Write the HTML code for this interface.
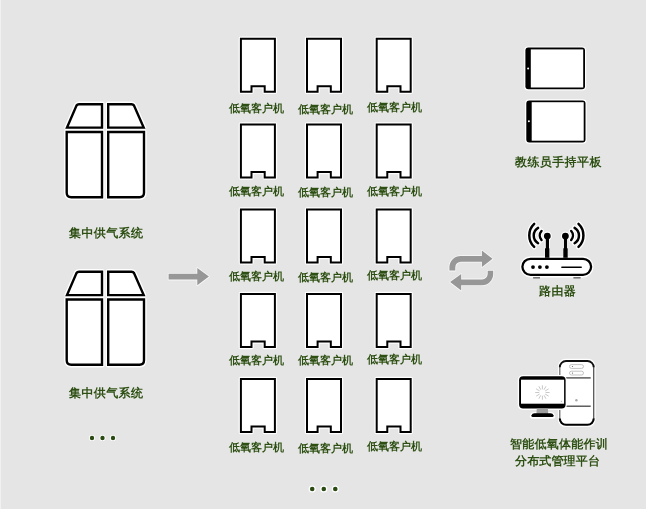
<!DOCTYPE html>
<html><head><meta charset="utf-8">
<style>
html,body{margin:0;padding:0;}
body{width:646px;height:509px;background:#e5e5e5;position:relative;overflow:hidden;font-family:"Liberation Sans",sans-serif;}
.t{position:absolute;white-space:nowrap;color:#2e4f14;font-weight:bold;will-change:transform;text-shadow:0 0 1px rgba(255,255,255,.9);}
.s{font-size:11px;line-height:11px;}
.m{font-size:12px;line-height:12px;letter-spacing:.4px;text-rendering:geometricPrecision;}
svg{position:absolute;left:0;top:0;}
</style></head><body>
<div style="position:absolute;left:0;top:0;width:1px;height:509px;background:#f1f1f1"></div>
<svg width="646" height="509" viewBox="0 0 646 509">
<defs>
  <g id="cab">
    <path d="M1,1 H35 V54 H24.8 V48.5 H11.6 V54 H1 Z" fill="#fff" stroke="#fff" stroke-width="4.5" stroke-linejoin="round"/>
    <path d="M1,1 H35 V54 H24.8 V48.5 H11.6 V54 H1 Z" fill="#fff" stroke="#000" stroke-width="2"/>
  </g>
  <g id="big">
    <g fill="#fff" stroke="#fff" stroke-width="5.2" stroke-linejoin="round">
      <path d="M13.5,1.2 H36.5 V24.6 H1.5 L11,2.5 Q11.8,1.2 13.5,1.2 Z"/>
      <path d="M1.2,29 H36.5 V94.3 H5.7 Q1.2,94.3 1.2,89.8 Z"/>
      <path d="M66,1.2 H42.7 V24.6 H78.2 L68.5,2.5 Q67.7,1.2 66,1.2 Z"/>
      <path d="M78.5,29 H42.7 V94.3 H74 Q78.5,94.3 78.5,89.8 Z"/>
    </g>
    <g fill="#fff" stroke="#000" stroke-width="2.4" stroke-linejoin="miter">
      <path d="M13.5,1.2 H36.5 V24.6 H1.5 L11,2.5 Q11.8,1.2 13.5,1.2 Z"/>
      <path d="M1.2,29 H36.5 V94.3 H5.7 Q1.2,94.3 1.2,89.8 Z"/>
      <path d="M66,1.2 H42.7 V24.6 H78.2 L68.5,2.5 Q67.7,1.2 66,1.2 Z"/>
      <path d="M78.5,29 H42.7 V94.3 H74 Q78.5,94.3 78.5,89.8 Z"/>
    </g>
  </g>
</defs>

<!-- big cabinets -->
<use href="#big" x="65.5" y="103"/>
<use href="#big" x="65.5" y="270.5"/>

<!-- dots left -->
<g fill="#fff">
  <circle cx="92" cy="438" r="3.1"/><circle cx="102.5" cy="438" r="3.1"/><circle cx="113" cy="438" r="3.1"/>
  <circle cx="312.2" cy="489" r="3.6"/><circle cx="323.8" cy="489" r="3.6"/><circle cx="335.3" cy="489" r="3.6"/>
</g>
<g fill="#2a4a12">
  <circle cx="92" cy="438" r="2.2"/><circle cx="102.5" cy="438" r="2.2"/><circle cx="113" cy="438" r="2.2"/>
  <circle cx="312.2" cy="489" r="2.3"/><circle cx="323.8" cy="489" r="2.3"/><circle cx="335.3" cy="489" r="2.3"/>
</g>

<!-- arrow -->
<path d="M168.6,273.7 H197.3 V268 L208.9,276.6 L197.3,285.3 V279.6 H168.6 Z" fill="#979797" stroke="rgba(255,255,255,.75)" stroke-width="1.6" stroke-linejoin="round" paint-order="stroke"/>

<!-- cabinet grid -->
<use href="#cab" x="239.9" y="37.7"/><use href="#cab" x="306" y="37.7"/><use href="#cab" x="375.7" y="37.7"/>
<use href="#cab" x="239.9" y="123.6"/><use href="#cab" x="306" y="123.6"/><use href="#cab" x="375.7" y="123.6"/>
<use href="#cab" x="239.9" y="208.6"/><use href="#cab" x="306" y="208.6"/><use href="#cab" x="375.7" y="208.6"/>
<use href="#cab" x="239.9" y="293"/><use href="#cab" x="306" y="293"/><use href="#cab" x="375.7" y="293"/>
<use href="#cab" x="239.9" y="377.9"/><use href="#cab" x="306" y="377.9"/><use href="#cab" x="375.7" y="377.9"/>

<!-- swap icon -->
<g fill="#979797" stroke="rgba(255,255,255,.75)" stroke-width="1.6" stroke-linejoin="round" paint-order="stroke">
  <path d="M449.4,270.6 V267.3 A11.3,11.3 0 0 1 460.7,256 H481.9 V250.6 L492.6,258.8 L481.9,266.9 V261.7 H461 A5.7,5.7 0 0 0 455.3,267.4 V270.6 Z"/>
  <path d="M493.2,270.7 V274 A11.2,11.2 0 0 1 482,285.2 H461.2 V290.6 L450.1,282.1 L461.2,274.1 V279.4 H482.1 A5.6,5.6 0 0 0 487.7,273.8 V270.7 Z"/>
</g>

<!-- tablets -->
<g>
  <rect x="524.2" y="46.4" width="62" height="44.1" rx="4" fill="#fff"/>
  <rect x="525.4" y="47.6" width="59.6" height="41.7" rx="3" fill="#000"/>
  <rect x="530.8" y="49.4" width="52.4" height="38.1" fill="#fff"/>
  <circle cx="528.1" cy="68.4" r="1" fill="#fff"/>

  <rect x="525.1" y="99.2" width="61.6" height="44.5" rx="4" fill="#fff"/>
  <rect x="526.3" y="100.4" width="59.2" height="42.1" rx="3" fill="#000"/>
  <rect x="531.7" y="102.2" width="52" height="38.5" fill="#fff"/>
  <circle cx="528.9" cy="121.2" r="1" fill="#fff"/>
</g>

<!-- router -->
<g>
  <rect x="522.4" y="258.8" width="68.7" height="16.1" rx="8.05" fill="#fff" stroke="#fff" stroke-width="5"/>
  <g fill="none" stroke="#fff" stroke-width="5" stroke-linecap="round">
    <path d="M534.2,223.9 A15.9,15.9 0 0 0 534.2,246.9"/>
    <path d="M538.1,227.9 A8.9,8.9 0 0 0 538.1,243.2"/>
    <path d="M541.5,231 A6.8,6.8 0 0 0 541.5,240"/>
    <path d="M578.5,223.9 A15.9,15.9 0 0 1 578.5,246.9"/>
    <path d="M574.6,227.9 A8.9,8.9 0 0 1 574.6,243.2"/>
    <path d="M571.2,231 A6.8,6.8 0 0 1 571.2,240"/>
    <path d="M547.2,236 V257 M565.5,236 V257"/>
  </g>
  <circle cx="547.3" cy="236.1" r="4.6" fill="#fff"/>
  <circle cx="565.4" cy="236.1" r="4.6" fill="#fff"/>
  <rect x="533.1" y="277.1" width="6.9" height="1.4" fill="#666"/>
  <rect x="573.4" y="277.1" width="7.2" height="1.4" fill="#666"/>
  <rect x="522.4" y="258.8" width="68.7" height="16.1" rx="8.05" fill="#fff" stroke="#000" stroke-width="2.3"/>
  <circle cx="533" cy="267.1" r="1.9" fill="#000"/>
  <circle cx="539.9" cy="267.1" r="1.9" fill="#000"/>
  <circle cx="546.9" cy="267.1" r="1.9" fill="#000"/>
  <line x1="561.9" y1="267.3" x2="581.2" y2="267.3" stroke="#000" stroke-width="1.5" stroke-linecap="round"/>
  <rect x="545.8" y="236" width="3.2" height="13" fill="#000"/>
  <rect x="545" y="248.3" width="4.4" height="9.5" fill="#000"/>
  <rect x="563.9" y="236" width="3.2" height="13" fill="#000"/>
  <rect x="563.3" y="248.3" width="4.4" height="9.5" fill="#000"/>
  <circle cx="547.3" cy="236.1" r="3.4" fill="#000"/>
  <circle cx="565.4" cy="236.1" r="3.4" fill="#000"/>
  <g fill="none" stroke="#000" stroke-width="2.5" stroke-linecap="round">
    <path d="M534.2,223.9 A15.9,15.9 0 0 0 534.2,246.9"/>
    <path d="M538.1,227.9 A8.9,8.9 0 0 0 538.1,243.2"/>
    <path d="M541.5,231 A6.8,6.8 0 0 0 541.5,240"/>
    <path d="M578.5,223.9 A15.9,15.9 0 0 1 578.5,246.9"/>
    <path d="M574.6,227.9 A8.9,8.9 0 0 1 574.6,243.2"/>
    <path d="M571.2,231 A6.8,6.8 0 0 1 571.2,240"/>
  </g>
</g>

<!-- computer -->
<g>
  <rect x="557.9" y="358.8" width="37.7" height="68.3" rx="7.5" fill="#fff"/>
  <path d="M559.8,366.5 V419" stroke="#666" stroke-width="1.2" fill="none"/>
  <path d="M593.7,366.5 V419" stroke="#555" stroke-width="1.3" fill="none"/>
  <path d="M559.8,367.2 A6.2,6.2 0 0 1 566,361 H587.5 A6.2,6.2 0 0 1 593.7,367.2" stroke="#111" stroke-width="1.9" fill="none"/>
  <path d="M559.8,418.6 A6.2,6.2 0 0 0 566,424.8 H587.5 A6.2,6.2 0 0 0 593.7,418.6" stroke="#000" stroke-width="2.1" fill="none"/>
  <line x1="565" y1="377.9" x2="590.7" y2="377.9" stroke="#444" stroke-width="1.3"/>
  <line x1="565" y1="406.2" x2="590.7" y2="406.2" stroke="#444" stroke-width="1.3"/>
  <rect x="569.5" y="364.6" width="14" height="3.8" rx="1.9" fill="#fff" stroke="#aaa" stroke-width="0.7"/>
  <rect x="569.5" y="371.2" width="14" height="3.8" rx="1.9" fill="#fff" stroke="#aaa" stroke-width="0.7"/>
  <circle cx="572.5" cy="366.5" r="0.6" fill="#666"/>
  <circle cx="572.5" cy="373.1" r="0.6" fill="#666"/>
  <circle cx="576.4" cy="400.3" r="1.2" fill="#aaa"/>

  <rect x="517.8" y="375" width="49" height="35" rx="5" fill="#fff"/>
  <path d="M532.5,417.5 H552.5 Q554.5,417.5 553.8,415.6 Q553,413.2 550.5,413.2 H534.5 Q532,413.2 531.2,415.6 Q530.6,417.5 532.5,417.5 Z" fill="#fff" stroke="#fff" stroke-width="2.6"/>
  <rect x="519.1" y="376.3" width="46.5" height="32.2" rx="4" fill="#000"/>
  <rect x="521" y="379.7" width="43.1" height="24" fill="#fff"/>
  <path d="M536.8,408.6 H547.9 L548.3,414 H536.4 Z" fill="#a0a0a0"/>
  <path d="M532.5,417 H552.5 Q554,417 553.5,415.3 Q552.8,413.3 550.6,413.3 H534.4 Q532.2,413.3 531.5,415.3 Q531,417 532.5,417 Z" fill="#000"/>
  <g stroke="#c8c8c8" stroke-width="1" stroke-linecap="round"><line x1="546.00" y1="392.50" x2="549.20" y2="392.50"/><line x1="545.52" y1="394.30" x2="548.29" y2="395.90"/><line x1="544.20" y1="395.62" x2="545.80" y2="398.39"/><line x1="542.40" y1="396.10" x2="542.40" y2="399.30"/><line x1="540.60" y1="395.62" x2="539.00" y2="398.39"/><line x1="539.28" y1="394.30" x2="536.51" y2="395.90"/><line x1="538.80" y1="392.50" x2="535.60" y2="392.50"/><line x1="539.28" y1="390.70" x2="536.51" y2="389.10"/><line x1="540.60" y1="389.38" x2="539.00" y2="386.61"/><line x1="542.40" y1="388.90" x2="542.40" y2="385.70"/><line x1="544.20" y1="389.38" x2="545.80" y2="386.61"/><line x1="545.52" y1="390.70" x2="548.29" y2="389.10"/></g>
  <circle cx="561.3" cy="401.2" r="0.5" fill="#999"/>
</g>
</svg>

<div class="t m" style="left:69px;top:227px">集中供气系统</div>
<div class="t m" style="left:69px;top:387px">集中供气系统</div>

<div class="t s" style="left:229px;top:103px">低氧客户机</div>
<div class="t s" style="left:298px;top:104px">低氧客户机</div>
<div class="t s" style="left:366.9px;top:102px">低氧客户机</div>
<div class="t s" style="left:229px;top:186px">低氧客户机</div>
<div class="t s" style="left:298px;top:187px">低氧客户机</div>
<div class="t s" style="left:366.9px;top:186px">低氧客户机</div>
<div class="t s" style="left:229px;top:271px">低氧客户机</div>
<div class="t s" style="left:298px;top:272px">低氧客户机</div>
<div class="t s" style="left:366.9px;top:270px">低氧客户机</div>
<div class="t s" style="left:229px;top:355px">低氧客户机</div>
<div class="t s" style="left:298px;top:355px">低氧客户机</div>
<div class="t s" style="left:366.9px;top:354px">低氧客户机</div>
<div class="t s" style="left:229px;top:442px">低氧客户机</div>
<div class="t s" style="left:298px;top:443px">低氧客户机</div>
<div class="t s" style="left:366.9px;top:441px">低氧客户机</div>

<div class="t m" style="left:514.8px;top:156px">教练员手持平板</div>
<div class="t m" style="left:538.5px;top:285px">路由器</div>
<div class="t m" style="left:509.5px;top:437.8px;letter-spacing:.25px">智能低氧体能作训</div>
<div class="t m" style="left:515px;top:455px;letter-spacing:.15px">分布式管理平台</div>
</body></html>
